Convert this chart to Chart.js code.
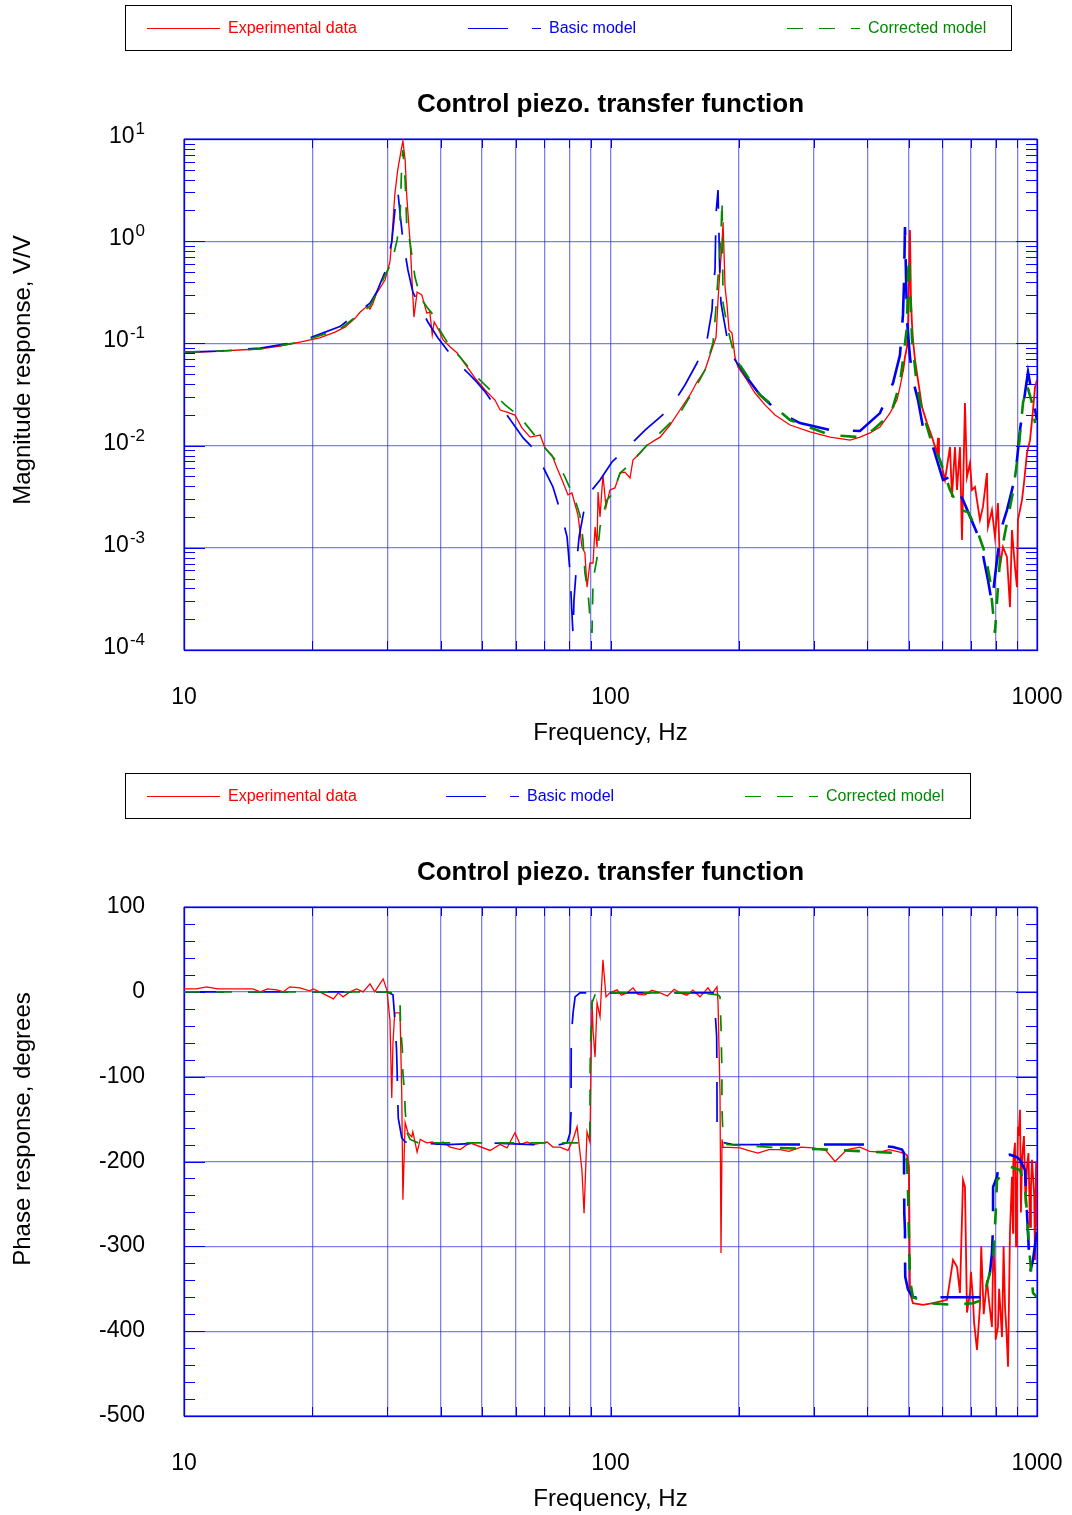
<!DOCTYPE html>
<html>
<head>
<meta charset="utf-8">
<title>Control piezo. transfer function</title>
<script src="https://cdn.jsdelivr.net/npm/chart.js@4.4.1/dist/chart.umd.min.js"></script>
<style>
  html, body { margin: 0; padding: 0; background: #fff; width: 1072px; height: 1515px; overflow: hidden; }
  canvas { position: absolute; left: 0; display: block; }
  #magChart { top: 0; }
  #phaseChart { top: 768px; }
</style>
</head>
<body>
<canvas id="magChart" width="1072" height="768"></canvas>
<canvas id="phaseChart" width="1072" height="747"></canvas>
<script>
// ---------------------------------------------------------------------------
// Axes: frequency grid and tick labels
// ---------------------------------------------------------------------------
const freqGridHz = [10, 20, 30, 40, 50, 60, 70, 80, 90, 100, 200, 300, 400, 500, 600, 700, 800, 900, 1000];
const freqTickValues = [10, 100, 1000];
const freqTickLabels = ['10', '100', '1000'];
const magTickValues = [10, 1, 0.1, 0.01, 0.001, 0.0001];
const magTickExponents = ['1', '0', '-1', '-2', '-3', '-4'];
const phaseTickValues = [100, 0, -100, -200, -300, -400, -500];
const phaseTickLabels = ['100', '0', '-100', '-200', '-300', '-400', '-500'];
const seriesLabels = ['Experimental data', 'Basic model', 'Corrected model'];
const chartTitle = 'Control piezo. transfer function';

// ---------------------------------------------------------------------------
// Magnitude response, V/V
// ---------------------------------------------------------------------------
const magExpHz = [
  10.0, 10.9, 12.1, 13.5, 15.1, 16.8, 18.7, 20.8, 22.6, 23.9,
  25.2, 25.9, 26.9, 27.3, 27.7, 28.3, 29.6, 30.4, 30.7, 31.2,
  31.7, 32.3, 32.6, 33.0, 33.3, 33.9, 34.6, 35.2, 36.1, 37.1,
  37.7, 38.2, 38.6, 39.8, 40.5, 42.1, 43.7, 46.1, 48.1, 50.8,
  53.6, 55.1, 57.2, 59.7, 62.0, 64.8, 68.4, 70.2, 72.9, 74.9,
  77.0, 79.5, 81.2, 83.9, 85.7, 87.1, 88.1, 89.5, 91.0, 92.0,
  93.0, 93.5, 94.5, 96.0, 97.6, 99.7, 102.4, 105.3, 108.1, 111.1,
  112.9, 117.3, 121.8, 127.2, 130.7, 137.9, 145.5, 153.6, 159.5, 166.6,
  171.1, 176.8, 178.7, 180.6, 182.6, 183.6, 184.6, 185.6, 187.6, 189.6,
  192.7, 195.8, 199.0, 206.7, 218.2, 230.3, 243.1, 263.6, 293.7, 327.2,
  364.5, 384.6, 405.9, 428.4, 452.1, 469.5, 477.2, 485.0, 490.3, 495.6,
  498.3, 501.0, 503.7, 506.4, 509.1, 511.9, 517.6, 526.0, 537.5, 552.2,
  567.3, 582.8, 586.0, 589.1, 598.7, 608.5, 625.2, 631.9, 642.2, 649.2,
  659.8, 667.0, 677.8, 685.2, 696.4, 703.9, 715.4, 727.1, 734.9, 746.9,
  763.2, 767.4, 784.1, 796.9, 810.0, 818.8, 832.1, 850.3, 864.2, 873.6,
  887.8, 897.5, 902.3, 922.2, 932.2, 942.4, 947.5, 963.0, 978.7, 989.3,
  1000
];
const magExp = [
  0.0824, 0.0824, 0.0842, 0.0862, 0.0882, 0.0943, 0.103, 0.113, 0.129, 0.145,
  0.177, 0.203, 0.232, 0.217, 0.243, 0.311, 0.417, 0.626, 1.03, 2.83,
  4.97, 7.80, 9.56, 6.23, 2.71, 0.960, 0.181, 0.318, 0.298, 0.198,
  0.203, 0.121, 0.162, 0.129, 0.108, 0.0922, 0.0805, 0.0588, 0.0459, 0.0350,
  0.0279, 0.0223, 0.0213, 0.0199, 0.0149, 0.0121, 0.0127, 0.00947, 0.00809, 0.00603,
  0.00461, 0.00329, 0.00344, 0.00209, 0.00102, 0.000889, 0.000413, 0.000710, 0.000710, 0.00160,
  0.00102, 0.00352, 0.00200, 0.00516, 0.00251, 0.00368, 0.00385, 0.00539, 0.00550, 0.00482,
  0.00723, 0.00847, 0.0101, 0.0113, 0.0121, 0.0159, 0.0223, 0.0313, 0.0419, 0.0549,
  0.0770, 0.115, 0.266, 0.523, 0.918, 1.54, 0.766, 0.356, 0.238, 0.135,
  0.126, 0.0736, 0.0588, 0.0469, 0.0327, 0.0250, 0.0199, 0.0159, 0.0136, 0.0121,
  0.0113, 0.0121, 0.0133, 0.0152, 0.0208, 0.0279, 0.0374, 0.0525, 0.0736, 0.0922,
  0.145, 0.390, 1.29, 0.266, 0.158, 0.108, 0.0688, 0.0438, 0.0239, 0.0166,
  0.0121, 0.00847, 0.0119, 0.00756, 0.00617, 0.00461, 0.00969, 0.00314, 0.00969, 0.00368,
  0.00969, 0.00119, 0.0261, 0.00493, 0.00676, 0.00368, 0.00394, 0.00251, 0.00187, 0.00251,
  0.00539, 0.00160, 0.00234, 0.00128, 0.00274, 0.000649, 0.00102, 0.000813, 0.000263, 0.00149,
  0.000649, 0.000413, 0.00187, 0.00294, 0.00431, 0.00676, 0.00847, 0.0113, 0.0223, 0.0374,
  0.0438
];

const magBasicHz = [
  10.0, 12.1, 15.1, 18.7, 23.2, 27.3, 28.3, 29.6, 30.7, 31.4,
  31.7, 32.1, 32.6, 33.5, 34.4, 35.8, 37.3, 39.4, 41.4, 43.7,
  46.1, 48.1, 50.8, 55.1, 57.2, 62.4, 65.8, 69.5, 73.3, 77.0,
  79.1, 80.4, 81.2, 81.7, 82.1, 83.5, 84.4, 86.7, 90.5, 94.5,
  100.8, 112.9, 120.5, 130.7, 137.9, 149.5, 159.5, 168.4, 173.0, 173.9,
  175.8, 176.8, 178.7, 180.6, 181.6, 183.6, 188.6, 193.8, 198.0, 206.7,
  224.1, 249.7, 278.2, 327.2, 384.6, 428.4, 459.6, 477.2, 485.0, 487.7,
  490.3, 495.6, 503.7, 511.9, 526.0, 540.3, 570.4, 602.1, 625.2, 670.7,
  734.9, 767.4, 784.1, 796.9, 805.7, 818.8, 832.1, 850.3, 873.6, 887.8,
  897.5, 912.3, 937.3, 952.7, 978.7, 1000
];
const magBasic = [
  0.0824, 0.0842, 0.0900, 0.104, 0.146, 0.248, 0.318, 0.500, 0.982, 2.53,
  3.17, 1.89, 1.03, 0.523, 0.318, 0.227, 0.162, 0.113, 0.0862, 0.0643,
  0.0525, 0.0438, 0.0337, 0.0208, 0.0199, 0.0119, 0.00947, 0.00617, 0.00394, 0.00200,
  0.00128, 0.000567, 0.000230, 0.000140, 0.000308, 0.000795, 0.00128, 0.00234, 0.00368, 0.00461,
  0.00691, 0.0108, 0.0142, 0.0190, 0.0232, 0.0392, 0.0643, 0.108, 0.212, 0.333,
  0.523, 1.89, 3.17, 0.390, 0.248, 0.190, 0.101, 0.0736, 0.0643, 0.0490,
  0.0313, 0.0208, 0.0166, 0.0142, 0.0139, 0.0208, 0.0410, 0.0770, 0.190, 0.390,
  1.38, 0.169, 0.0736, 0.0438, 0.0279, 0.0152, 0.00969, 0.00461, 0.00493, 0.00294,
  0.00119, 0.000484, 0.000285, 0.000518, 0.000760, 0.00128, 0.00175, 0.00234, 0.00368, 0.00493,
  0.00723, 0.0142, 0.0327, 0.0525, 0.0279, 0.0178
];

const magCorrHz = [
  10.0, 12.1, 15.1, 18.7, 23.2, 27.3, 28.8, 29.6, 30.7, 31.6,
  32.1, 32.4, 32.6, 33.0, 33.3, 33.9, 34.8, 35.8, 37.1, 38.4,
  39.8, 42.1, 44.4, 48.1, 52.2, 56.6, 60.7, 63.0, 70.2, 75.3,
  78.2, 82.6, 84.8, 86.2, 87.1, 88.6, 89.5, 90.5, 91.0, 93.0,
  94.5, 98.1, 101.4, 105.3, 109.3, 121.8, 130.7, 145.5, 159.5, 166.6,
  173.9, 175.8, 180.6, 181.6, 182.6, 183.6, 188.6, 193.8, 201.2, 224.1,
  263.6, 327.2, 384.6, 412.6, 445.0, 459.6, 477.2, 485.0, 495.6, 498.3,
  501.0, 509.1, 523.2, 537.5, 561.3, 592.4, 625.2, 659.8, 689.0, 723.3,
  755.2, 775.9, 796.9, 810.0, 818.8, 841.4, 878.6, 902.3, 927.2, 947.5,
  973.4, 989.3
];
const magCorr = [
  0.0824, 0.0842, 0.0882, 0.103, 0.138, 0.232, 0.356, 0.467, 0.612, 1.03,
  1.61, 5.82, 7.80, 3.97, 1.38, 0.960, 0.446, 0.284, 0.227, 0.190,
  0.135, 0.0922, 0.0736, 0.0490, 0.0350, 0.0250, 0.0199, 0.0166, 0.00947, 0.00676,
  0.00493, 0.00294, 0.00209, 0.00119, 0.000567, 0.000361, 0.000210, 0.000147, 0.000484, 0.000795,
  0.00160, 0.00294, 0.00344, 0.00539, 0.00617, 0.0101, 0.0133, 0.0208, 0.0392, 0.0549,
  0.101, 0.169, 0.820, 1.20, 2.53, 0.248, 0.135, 0.0862, 0.0610, 0.0313,
  0.0178, 0.0127, 0.0121, 0.0142, 0.0190, 0.0239, 0.0410, 0.0688, 0.145, 0.446,
  0.700, 0.113, 0.0374, 0.0223, 0.0121, 0.00723, 0.00368, 0.00234, 0.00224, 0.00149,
  0.000889, 0.000484, 0.000147, 0.000413, 0.000760, 0.00140, 0.00352, 0.00808, 0.0261, 0.0392,
  0.0261, 0.0166
];

// ---------------------------------------------------------------------------
// Phase response, degrees
// ---------------------------------------------------------------------------
const phaseExpHz = [
  10.0, 10.7, 11.3, 12.0, 14.5, 15.1, 15.7, 16.5, 17.1, 17.7,
  18.7, 19.7, 20.1, 20.8, 22.4, 23.0, 23.6, 24.5, 25.4, 26.3,
  27.3, 28.0, 29.3, 29.9, 30.4, 30.7, 30.9, 31.2, 32.1, 32.4,
  32.6, 33.0, 33.5, 34.2, 34.4, 35.2, 35.8, 37.1, 38.2, 39.2,
  40.5, 42.1, 44.4, 46.8, 52.2, 55.1, 57.2, 59.7, 61.4, 63.7,
  65.8, 71.0, 73.3, 76.1, 79.5, 81.7, 83.5, 85.7, 86.7, 88.1,
  89.5, 90.5, 91.0, 92.0, 93.0, 94.5, 96.0, 97.6, 99.7, 103.6,
  106, 109.3, 112.9, 116, 120.5, 125, 130.7, 136, 141, 145.5,
  151, 156, 162.1, 169.3, 173, 177.7, 178.7, 180.6, 181.6, 182.6,
  183.6, 201.2, 210, 221.7, 235, 249.7, 262, 280, 298.5, 320,
  336.1, 358.5, 384.6, 405, 428.4, 450, 477.2, 495.6, 501.0, 503.7,
  511.9, 540.3, 570.4, 615.2, 625.2, 635.5, 649.2, 659.8, 670.7, 677.8,
  685.2, 696.4, 700, 707.9, 712, 723.3, 734.9, 740, 750, 763.2,
  770, 784.1, 790, 796.9, 800, 810.0, 815, 827.9, 835, 841.4,
  848, 855.2, 864.2, 873.6, 878.6, 880, 887.8, 893, 897.5, 902.3,
  906, 912.3, 917, 922.2, 927.2, 932, 940, 947.5, 955, 963.0,
  968, 973.4, 985, 989.3, 995, 1000
];
const phaseExp = [
  3.5, 3.5, 5.9, 3.5, 3.5, 0, 3.5, 2.4, 0, 5.9,
  4.7, 1.2, 3.5, 0, -8.3, -1.2, -5.9, 0, 3.5, 0,
  9.4, 0, 15.3, 2.4, -33, -125, -60, -24.8, -24.8, -119,
  -245, -154, -166, -171, -165, -189, -174, -178, -177, -180,
  -177, -183, -186, -178, -187, -180, -184, -166, -180, -177,
  -180, -177, -183, -183, -187, -174, -159, -210, -261, -165,
  -177, -9.4, -45, -77, -13, -29.5, 37.7, -5.9, -1.2, 2.4,
  -4, -1.2, 4.7, -3, -3.5, 2, -1.2, -5, 3, -1.2,
  -4, 2, -5.9, 4.7, -2, 5.9, -13, -119, -308, -174,
  -183, -184, -187, -190, -186, -186, -188, -183, -184, -187,
  -200, -186, -183, -188, -189, -186, -189, -192, -206, -355,
  -367, -369, -367, -363, -340, -316, -324, -355, -222, -230,
  -378, -355, -330, -363, -390, -422, -371, -300, -380, -340,
  -360, -395, -300, -331, -410, -395, -350, -407, -300, -371,
  -400, -442, -284, -218, -284, -200, -178, -300, -237, -159,
  -170, -139, -260, -198, -183, -170, -250, -206, -190, -277,
  -230, -198, -240, -316, -200, -277
];

const phaseBasicHz = [
  10.0, 28.8, 29.9, 30.9, 31.2, 31.5, 31.6, 31.7, 31.8, 32.4,
  33.0, 35.4, 41.6, 51.3, 65.8, 76.1, 79.1, 80.4, 80.8, 80.9,
  81.7, 82.6, 84.8, 100.8, 162.1, 173.9, 175.8, 177.4, 177.6, 177.7,
  177.8, 180.6, 193.8, 224.1, 263.6, 345.2, 412.6, 459.6, 482.5, 487.7,
  488.0, 488.5, 490.3, 490.5, 491.0, 498.3, 511.9, 570.4, 670.7, 734.9,
  746.9, 763.2, 775.9, 784.1, 788.6, 789.0, 805.7, 818.8, 864.2, 897.5,
  912.3, 937.3, 947.5, 957.8, 963.0, 978.7, 1000
];
const phaseBasic = [
  0, 0, 0, -3.5, -30.7, -68, -92, -125, -149, -172,
  -177, -178, -180, -178, -180, -180, -178, -166, -143, -53,
  -24.8, -5.9, -1.2, -1.2, -1.2, -1.2, -21, -53, -88, -119,
  -166, -177, -180, -180, -180, -180, -180, -183, -186, -190,
  -222, -261, -281, -316, -336, -351, -360, -360, -360, -360,
  -355, -348, -331, -308, -277, -230, -218, -195, -192, -195,
  -198, -210, -261, -308, -331, -316, -281
];

const phaseCorrHz = [
  10.0, 29.6, 30.9, 31.7, 32.1, 32.2, 32.5, 32.6, 32.9, 33.0,
  33.3, 33.9, 35.4, 49.4, 76.1, 87.1, 89.4, 89.5, 89.6, 89.8,
  90.5, 92.0, 94.5, 162.1, 178.7, 180.6, 181.6, 182.4, 182.6, 183.6,
  187.6, 249.7, 327.2, 428.4, 477.2, 495.6, 498.3, 501.0, 503.7, 511.9,
  561.3, 635.5, 707.9, 746.9, 767.4, 788.6, 796.9, 801.4, 805.7, 864.2,
  912.3, 937.3, 947.5, 957.8, 978.7, 1000
];
const phaseCorr = [
  0, 0, -1.2, -5.9, -13, -41, -68, -95.5, -119, -139,
  -166, -174, -178, -178, -178, -178, -177, -154, -88, -60,
  -13, -3.5, -1.2, -1.2, -3.5, -5.9, -41, -88, -139, -172,
  -180, -184, -186, -189, -190, -198, -233, -289, -340, -360,
  -367, -369, -367, -363, -340, -316, -277, -253, -222, -206,
  -210, -230, -261, -301, -355, -360
];

// ---------------------------------------------------------------------------
// Styling
// ---------------------------------------------------------------------------
const FONT = '"Liberation Sans", Arial, Helvetica, sans-serif';
const FRAME_BLUE = '#0000ff';
const GRID_BLUE = 'rgba(40,40,235,0.6)';
const RED = '#ff0000';
const BLUE = '#0000f0';
const GREEN = '#008a00';
const DASH_BASIC = [40, 24];
const DASH_CORRECTED = [16, 16];
const LEGEND_SAMPLE = 73;

function pairs(hz, vals) {
  return hz.map((f, i) => ({ x: f, y: vals[i] }));
}

// Lines get heavier above ~200 Hz, where the sweep is densely sampled
function widthAbove(fromHz, thin, thick) {
  return { borderWidth: c => (c.p0.parsed.x >= fromHz ? thick : thin) };
}

function makeDatasets(expHz, exp, basicHz, basic, corrHz, corr) {
  const common = { pointRadius: 0, tension: 0, fill: false, spanGaps: true, borderJoinStyle: 'miter' };
  return [
    Object.assign({ label: seriesLabels[0], data: pairs(expHz, exp), borderColor: RED, borderWidth: 1.3,
                    segment: widthAbove(480, 1.3, 1.8), order: 3 }, common),
    Object.assign({ label: seriesLabels[1], data: pairs(basicHz, basic), borderColor: BLUE, borderWidth: 1.7,
                    borderDash: DASH_BASIC, segment: widthAbove(200, 1.7, 2.6), order: 2 }, common),
    Object.assign({ label: seriesLabels[2], data: pairs(corrHz, corr), borderColor: GREEN, borderWidth: 1.7,
                    borderDash: DASH_CORRECTED, segment: widthAbove(200, 1.7, 2.6), order: 1 }, common)
  ];
}

// Minor tick positions on the vertical axes
const magMinor = [];
[0.0001, 0.001, 0.01, 0.1, 1].forEach(d => { for (let k = 2; k <= 9; k++) magMinor.push(k * d); });
const phaseMinor = [];
for (let v = -480; v < 100; v += 20) { if (v % 100 !== 0) phaseMinor.push(v); }

function drawPowerLabel(ctx, exponent, xRight, yBase) {
  ctx.textAlign = 'left';
  ctx.font = '23px ' + FONT;
  const wb = ctx.measureText('10').width;
  ctx.font = '17px ' + FONT;
  const we = ctx.measureText(exponent).width;
  const x0 = xRight - wb - we - 1;
  ctx.font = '23px ' + FONT;
  ctx.fillText('10', x0, yBase);
  ctx.font = '17px ' + FONT;
  ctx.fillText(exponent, x0 + wb + 1, yBase - 9);
}

// Per-panel layout
const panels = {
  magChart: {
    canvasHeight: 768, plotBottom: 650,
    legendBox: [125, 1011], legendX: [147, 468, 787],
    yTitle: 'Magnitude response, V/V', yTitleY: 370,
    yMajor: magTickValues, yMinor: magMinor,
    drawYLabels(ctx, y) {
      magTickValues.forEach((v, i) => drawPowerLabel(ctx, magTickExponents[i], 145, y.getPixelForValue(v) + 4));
    }
  },
  phaseChart: {
    canvasHeight: 747, plotBottom: 648,
    legendBox: [125, 970], legendX: [147, 446, 745],
    yTitle: 'Phase response, degrees', yTitleY: 361,
    yMajor: phaseTickValues, yMinor: phaseMinor,
    drawYLabels(ctx, y) {
      ctx.textAlign = 'right';
      ctx.font = '23px ' + FONT;
      phaseTickValues.forEach((v, i) => ctx.fillText(phaseTickLabels[i], 145, y.getPixelForValue(v) + 6));
    }
  }
};

// Frame, inner tick marks, titles, tick labels and legend box
const decorations = {
  id: 'decorations',
  beforeDatasetsDraw(chart) {
    const spec = panels[chart.canvas.id];
    const { ctx, chartArea: a, scales: { x, y } } = chart;
    ctx.save();
    ctx.strokeStyle = FRAME_BLUE;
    ctx.lineWidth = 1;
    ctx.beginPath();
    freqGridHz.forEach(v => {
      const px = Math.round(x.getPixelForValue(v)) + 0.5;
      ctx.moveTo(px, a.bottom); ctx.lineTo(px, a.bottom - 9);
      ctx.moveTo(px, a.top); ctx.lineTo(px, a.top + 9);
    });
    spec.yMinor.forEach(v => {
      const py = Math.round(y.getPixelForValue(v)) + 0.5;
      ctx.moveTo(a.left, py); ctx.lineTo(a.left + 11, py);
      ctx.moveTo(a.right, py); ctx.lineTo(a.right - 11, py);
    });
    spec.yMajor.forEach(v => {
      const py = Math.round(y.getPixelForValue(v)) + 0.5;
      ctx.moveTo(a.left, py); ctx.lineTo(a.left + 21, py);
      ctx.moveTo(a.right, py); ctx.lineTo(a.right - 21, py);
    });
    ctx.stroke();
    ctx.lineWidth = 1.3;
    ctx.strokeRect(Math.round(a.left) + 0.5, Math.round(a.top) + 0.5,
                   Math.round(a.right - a.left), Math.round(a.bottom - a.top));
    ctx.restore();
  },
  afterDraw(chart) {
    const spec = panels[chart.canvas.id];
    const { ctx, chartArea: a, scales: { x, y } } = chart;
    const cx = (a.left + a.right) / 2;
    ctx.save();
    ctx.fillStyle = '#000';
    ctx.textBaseline = 'alphabetic';

    // Title
    ctx.textAlign = 'center';
    ctx.font = 'bold 26px ' + FONT;
    ctx.fillText(chartTitle, cx, 112);

    // Frequency tick labels and axis title
    ctx.font = '23px ' + FONT;
    freqTickValues.forEach((v, i) => ctx.fillText(freqTickLabels[i], x.getPixelForValue(v), a.bottom + 54));
    ctx.font = '24px ' + FONT;
    ctx.fillText('Frequency, Hz', cx, a.bottom + 90);

    // Vertical axis labels and title
    spec.drawYLabels(ctx, y);
    ctx.save();
    ctx.translate(23, spec.yTitleY);
    ctx.rotate(-Math.PI / 2);
    ctx.textAlign = 'center';
    ctx.textBaseline = 'middle';
    ctx.font = '24px ' + FONT;
    ctx.fillStyle = '#000';
    ctx.fillText(spec.yTitle, 0, 0);
    ctx.restore();

    // Legend box
    ctx.strokeStyle = '#000';
    ctx.lineWidth = 1;
    ctx.strokeRect(spec.legendBox[0] + 0.5, 5.5, spec.legendBox[1] - spec.legendBox[0], 45);
    chart.data.datasets.forEach((ds, i) => {
      const x0 = spec.legendX[i];
      ctx.strokeStyle = ds.borderColor;
      ctx.lineWidth = 1.2;
      ctx.setLineDash(ds.borderDash ? (i === 1 ? DASH_BASIC : DASH_CORRECTED) : []);
      ctx.beginPath();
      ctx.moveTo(x0, 28.5);
      ctx.lineTo(x0 + LEGEND_SAMPLE, 28.5);
      ctx.stroke();
      ctx.setLineDash([]);
      ctx.fillStyle = ds.borderColor;
      ctx.textAlign = 'left';
      ctx.font = '16px ' + FONT;
      ctx.fillText(ds.label, x0 + 81, 33);
    });
    ctx.restore();
  }
};

function buildChart(id, datasets, yScale) {
  const spec = panels[id];
  return new Chart(document.getElementById(id), {
    type: 'line',
    data: { datasets },
    plugins: [decorations],
    options: {
      responsive: false,
      animation: false,
      devicePixelRatio: 1,
      events: [],
      layout: { padding: { top: 139, right: 35, left: 0, bottom: 0 } },
      plugins: { legend: { display: false }, title: { display: false }, tooltip: { enabled: false } },
      scales: {
        x: {
          type: 'logarithmic', position: 'bottom', min: 10, max: 1000,
          afterBuildTicks: s => { s.ticks = freqGridHz.map(v => ({ value: v })); },
          afterFit: s => { s.height = spec.canvasHeight - spec.plotBottom; },
          ticks: { display: false },
          grid: { color: GRID_BLUE, lineWidth: 1.3, drawTicks: false },
          border: { display: false }
        },
        y: Object.assign({
          position: 'left',
          afterFit: s => { s.width = 184; },
          grid: { color: GRID_BLUE, lineWidth: 1.3, drawTicks: false },
          border: { display: false }
        }, yScale)
      }
    }
  });
}

buildChart('magChart',
  makeDatasets(magExpHz, magExp, magBasicHz, magBasic, magCorrHz, magCorr),
  {
    type: 'logarithmic', min: 0.0001, max: 10,
    afterBuildTicks: s => { s.ticks = magTickValues.map(v => ({ value: v })).reverse(); },
    ticks: { display: false }
  });

buildChart('phaseChart',
  makeDatasets(phaseExpHz, phaseExp, phaseBasicHz, phaseBasic, phaseCorrHz, phaseCorr),
  {
    type: 'linear', min: -500, max: 100,
    afterBuildTicks: s => { s.ticks = phaseTickValues.map(v => ({ value: v })).reverse(); },
    ticks: { display: false }
  });
</script>
</body>
</html>
